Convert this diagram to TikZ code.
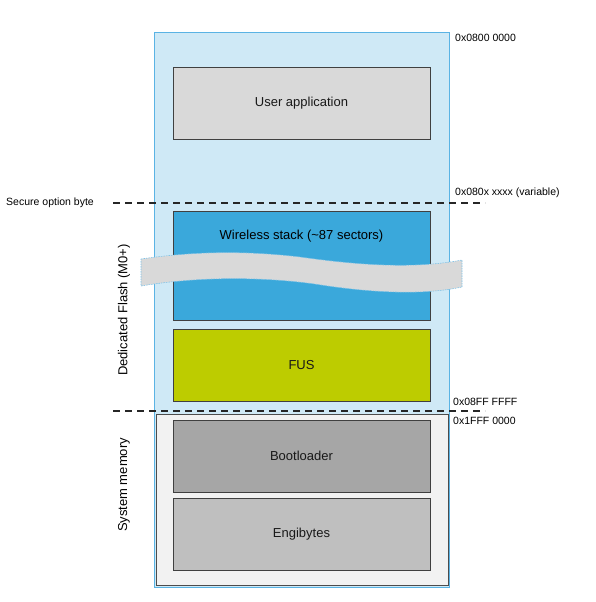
\documentclass[tikz,border=0pt]{standalone}
\usepackage{fontspec}
\setmainfont{Liberation Sans}
\usetikzlibrary{calc}

\definecolor{flashfill}{HTML}{CFE9F6}
\definecolor{flashedge}{HTML}{5AB3E4}
\definecolor{stackblue}{HTML}{3AA8DB}
\definecolor{fusgreen}{HTML}{BDCC00}
\definecolor{appgray}{HTML}{D9D9D9}
\definecolor{bootgray}{HTML}{A6A6A6}
\definecolor{engigray}{HTML}{BFBFBF}
\definecolor{sysfill}{HTML}{F2F2F2}
\definecolor{boxline}{HTML}{404040}
\definecolor{bandedge}{HTML}{7CC2E8}

\tikzset{
  region/.style={draw=boxline, line width=0.9pt, minimum width=257pt, minimum height=72pt,
    inner sep=0pt, font=\fontsize{13}{15}\selectfont, text=black!90},
  addr/.style={anchor=west, inner sep=1pt, font=\fontsize{10.5}{12}\selectfont},
  sidelabel/.style={rotate=90, inner sep=0pt, font=\fontsize{13}{15}\selectfont},
  boundary/.style={line width=1.3pt, dash pattern=on 7pt off 5pt, draw=black!85}
}

\begin{document}
\begin{tikzpicture}[x=1pt,y=-1pt]
\useasboundingbox (0,0) rectangle (595,602);
\node[draw=flashedge,fill=flashfill,line width=1pt,minimum width=295pt,minimum height=554pt] (flash) at (301.5,310) {};
\node[draw=black!70,fill=sysfill,line width=0.8pt,minimum width=292pt,minimum height=171pt] (sysmem) at (302,499.5) {};
\node[region,fill=appgray] (userapp) at (301.5,103) {User application};
\node[region,fill=stackblue,minimum height=109pt,
  label={[anchor=center,yshift=-26pt,font=\fontsize{13}{15}\selectfont]north:Wireless stack (\textasciitilde87 sectors)}] (wireless) at (301.5,265.5) {};
\node[region,fill=fusgreen] (fus) at (301.5,365) {FUS};
\node[region,fill=bootgray] (boot) at (301.5,456) {Bootloader};
\node[region,fill=engigray] (engi) at (301.5,534) {Engibytes};
% cut through the stack
\path[fill=appgray,draw=bandedge,line width=0.6pt,dash pattern=on 1.5pt off 1pt]
  (141,259) .. controls (190,252) and (240,250) .. (300,257)
  .. controls (350,264) and (410,270) .. (462,260) -- (462,287)
  .. controls (420,296) and (365,292) .. (315,284)
  .. controls (265,277) and (200,276) .. (141,286) -- cycle;
\node[sidelabel] (flashlbl) at (124,310) {Dedicated Flash (M0+)};
\node[sidelabel] (syslbl) at (124,485) {System memory};
\node[addr] (a0) at (454,38) {0x0800 0000};
\node[addr] (a1) at (454,193) {0x080x xxxx (variable)};
\node[addr] (a2) at (452,402) {0x08FF FFFF};
\node[addr] (a3) at (452,421) {0x1FFF 0000};
\node[addr,anchor=east] (sob) at (95,203) {Secure option byte};
\coordinate (sobL) at (113,203);
\coordinate (sobR) at (485,203);
\coordinate (sysL) at (113,411);
\coordinate (sysR) at (485,411);
\draw[boundary] (sobL) -- (sobR);
\draw[boundary] (sysL) -- (sysR);
\end{tikzpicture}
\end{document}
